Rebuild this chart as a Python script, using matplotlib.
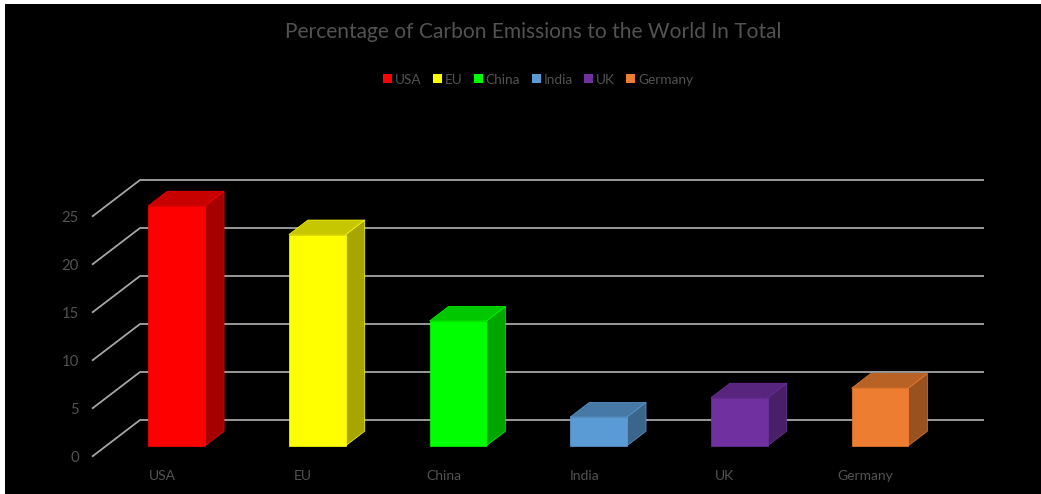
import matplotlib
matplotlib.use("Agg")
import matplotlib.pyplot as plt
from matplotlib.patches import Patch, Polygon, Rectangle
from matplotlib.colors import to_rgb

categories = ["USA", "EU", "China", "India", "UK", "Germany"]
emissions = [25, 22, 13, 3, 5, 6]
colors = ["#ff0000", "#ffff00", "#00ff00", "#5b9bd5", "#7030a0", "#ed7d31"]
y_ticks = [0, 5, 10, 15, 20, 25]

W, H = 1041, 494
TEXT = "#525252"
GRID = "#a6a6a6"
plt.rcParams["font.family"] = ["Lato", "DejaVu Sans"]

fig = plt.figure(figsize=(W / 100, H / 100), dpi=100, facecolor="white")
fig.add_artist(Rectangle((5 / W, 0), 1 - 5 / W, 1 - 4 / H,
                         transform=fig.transFigure, facecolor="black", edgecolor="none", zorder=-10))

# The axes rectangle is the front plane of the oblique box.
left, right, floor, top = 92, 936, 456.7, 216.7
ax = fig.add_axes([left / W, 1 - floor / H, (right - left) / W, (floor - top) / H])
ax.patch.set_visible(False)
ax.set_xlim(-0.5, len(categories) - 0.5)
ax.set_ylim(0, max(y_ticks))
for s in ax.spines.values():
    s.set_visible(False)

x_per_px = len(categories) / (right - left)
v_per_px = max(y_ticks) / (floor - top)
depth_dx = 48 * x_per_px
depth_dy = 36.7 * v_per_px


def project(x, v, d):
    """Oblique projection of a point at depth d (0 front, 1 back) into data space."""
    return x + d * depth_dx, v + d * depth_dy


# Gridlines: floor edge up to the back wall, then across the wall.
for t in y_ticks:
    xs = [-0.5, -0.5 + depth_dx, len(categories) - 0.5 + depth_dx]
    ys = [t, t + depth_dy, t + depth_dy]
    ax.plot(xs, ys, color=GRID, lw=1.3, clip_on=False, zorder=1, solid_capstyle="butt")

# Columns: front, side and top faces.
half = 56.8 / 2 * x_per_px
d0, d1 = 0.298, 0.694
for i, (val, col) in enumerate(zip(emissions, colors)):
    r, g, b = to_rgb(col)
    top_col = (r * 0.78, g * 0.78, b * 0.78)
    side_col = (r * 0.65, g * 0.65, b * 0.65)
    xl, xr = i - half, i + half
    front = [project(xl, 0, d0), project(xr, 0, d0), project(xr, val, d0), project(xl, val, d0)]
    side = [project(xr, 0, d0), project(xr, 0, d1), project(xr, val, d1), project(xr, val, d0)]
    roof = [project(xl, val, d0), project(xr, val, d0), project(xr, val, d1), project(xl, val, d1)]
    ax.add_patch(Polygon(side, closed=True, facecolor=side_col, edgecolor=col, lw=0.5, clip_on=False, zorder=3))
    ax.add_patch(Polygon(roof, closed=True, facecolor=top_col, edgecolor=col, lw=0.5, clip_on=False, zorder=3))
    ax.add_patch(Polygon(front, closed=True, facecolor=col, edgecolor=col, lw=0.5, clip_on=False, zorder=4))

ax.set_yticks(y_ticks)
ax.set_xticks(range(len(categories)))
ax.set_xticklabels(categories)
ax.tick_params(axis="y", length=0, pad=9.5, labelsize=10.7, labelcolor=TEXT)
ax.tick_params(axis="x", length=0, pad=9.5, labelsize=10, labelcolor=TEXT)

fig.text(533.5 / W, 1 - 31.5 / H, "Percentage of Carbon Emissions to the World In Total",
         ha="center", va="center", fontsize=15.1, color=TEXT)

handles = [Patch(facecolor=c, edgecolor="none") for c in colors]
fig.legend(handles, categories, loc="center", bbox_to_anchor=(538 / W, 1 - 79.5 / H), ncols=6,
           frameon=False, fontsize=9.8, labelcolor=TEXT, handlelength=0.66, handleheight=0.66,
           handletextpad=0.2, columnspacing=0.85, borderpad=0)

fig.savefig("out.png", dpi=100, facecolor=fig.get_facecolor())
